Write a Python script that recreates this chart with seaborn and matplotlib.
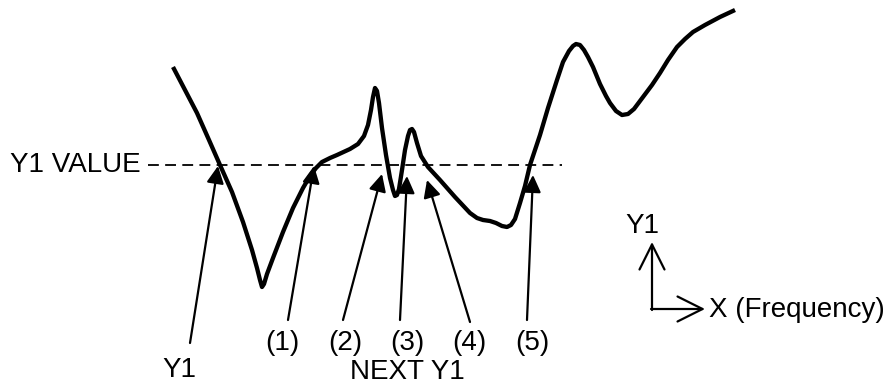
import matplotlib
matplotlib.use("Agg")
import matplotlib.pyplot as plt
import seaborn as sns
import pandas as pd

# ---- data (schematic curve, pixel-like units) ----
curve_x = [173, 185, 197, 209, 220, 232, 243, 252, 257, 260, 262, 264, 267, 273, 283, 293, 303, 310,
           316, 322, 330, 337, 350, 358, 364, 368, 371, 373, 375, 377, 379, 382, 386, 390, 393, 395, 397,
           399, 402, 405, 408, 410, 412, 414, 417, 421, 428, 440, 455, 470, 477, 483, 490, 496, 502, 507,
           511, 515, 520, 525, 530, 540, 548, 557, 563, 569, 573, 576, 580, 584, 588, 593, 600, 606, 610,
           616, 622, 628, 634, 643, 652, 660, 668, 677, 685, 693, 705, 720, 735]
curve_y = [67, 90, 113, 140, 165, 192, 222, 250, 268, 280, 287, 284, 274, 258, 232, 208, 188, 176,
           168, 162, 158, 155, 149, 144, 136, 125, 110, 97, 88, 91, 103, 128, 155, 178, 190, 196, 195,
           189, 170, 150, 136, 130, 129, 132, 143, 156, 167, 180, 197, 213, 218, 220, 221, 223, 226, 227,
           225, 219, 203, 186, 165, 135, 108, 80, 62, 51, 46, 44, 45, 50, 57, 67, 84, 96, 103,
           111, 115, 114, 109, 97, 85, 73, 60, 47, 39, 32, 25, 17, 10]

y1_value = 165
arrow_labels = ["Y1", "(1)", "(2)", "(3)", "(4)", "(5)"]
arrow_tip_x = [218, 314, 382, 407, 427, 533]
arrow_tip_y = [166, 166, 174, 176, 180, 175]

# ---- layout ----
arrow_tail = [(190, 343), (288, 320), (343, 320), (400, 320), (470, 322), (527, 320)]
label_pos = [(179, 377), (282, 350), (345, 350), (407, 350), (469, 350), (532, 350)]

sns.set_theme(style="white")
plt.rcParams['font.family'] = ['Liberation Sans', 'DejaVu Sans']
plt.rcParams['text.color'] = 'black'

fig = plt.figure(figsize=(8.91, 3.85), dpi=100)
ax = fig.add_axes([0, 0, 1, 1])
ax.set_xlim(0, 891)
ax.set_ylim(385, 0)
ax.axis("off")

df = pd.DataFrame({"x": curve_x, "y": curve_y})
sns.lineplot(data=df, x="x", y="y", sort=False, ax=ax, color="black", lw=3.1,
             solid_joinstyle="round", solid_capstyle="butt")

fs = 20
# dashed Y1 VALUE line
ax.plot([148, 562], [y1_value, y1_value], color="black", lw=1.3, ls=(0, (6, 3.5)))
ax.text(141, 172, "Y1 VALUE", ha="right", va="baseline", fontsize=fs, color="black")

for lab, tx, ty, tail, lp in zip(arrow_labels, arrow_tip_x, arrow_tip_y, arrow_tail, label_pos):
    ax.annotate("", xy=(tx, ty), xytext=tail,
                arrowprops=dict(arrowstyle="-|>", mutation_scale=26, lw=1.6,
                                color="black", shrinkA=0, shrinkB=0))
    ax.text(lp[0], lp[1], lab, ha="center", va="baseline", fontsize=fs, color="black")

ax.text(407, 379, "NEXT Y1", ha="center", va="baseline", fontsize=fs, color="black")

# axis icon
ax.annotate("", xy=(652, 242), xytext=(652, 310),
            arrowprops=dict(arrowstyle="->", mutation_scale=45, lw=1.6, color="black",
                            shrinkA=0, shrinkB=0))
ax.annotate("", xy=(705, 309), xytext=(651, 309),
            arrowprops=dict(arrowstyle="->", mutation_scale=45, lw=1.6, color="black",
                            shrinkA=0, shrinkB=0))
ax.text(642, 233, "Y1", ha="center", va="baseline", fontsize=fs, color="black")
ax.text(709, 317, "X (Frequency)", ha="left", va="baseline", fontsize=fs, color="black")

fig.savefig("out.png", dpi=100)
